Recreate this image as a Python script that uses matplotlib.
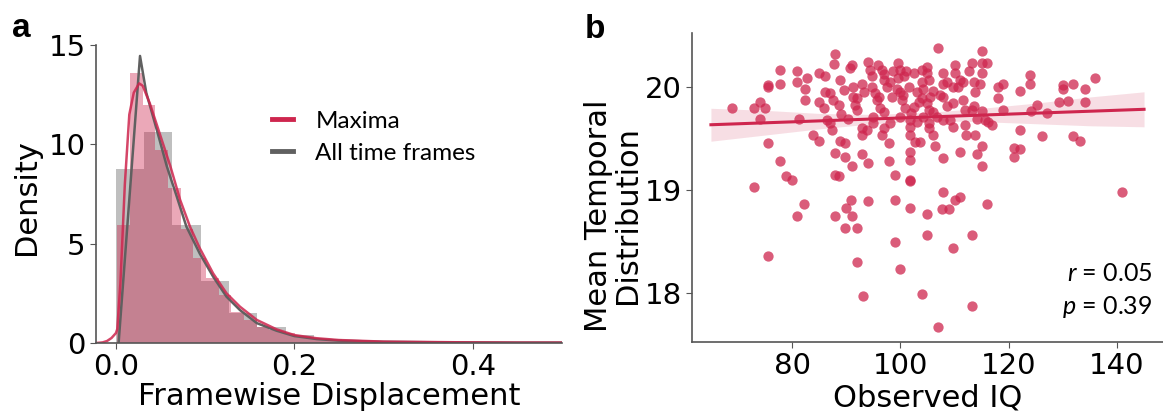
import matplotlib
matplotlib.use("Agg")
import matplotlib.pyplot as plt
from matplotlib.lines import Line2D
import numpy as np

plt.rcParams['mathtext.fontset'] = 'custom'
plt.rcParams['mathtext.rm'] = 'Lato'
plt.rcParams['mathtext.it'] = 'Lato:italic'

pink = '#ce264e'
grey = '#606060'

# ---- panel a : framewise displacement ----
grey_start, grey_width = 0.0, 0.0317
grey_heights = [8.75, 10.6, 5.94, 3.14, 1.53, 0.79, 0.42, 0.22, 0.13, 0.08,
                0.06, 0.05, 0.04, 0.03, 0.03, 0.02]
pink_start, pink_width = 0.0015, 0.0142
pink_heights = [5.94, 13.57, 11.98, 9.71, 7.78, 5.72, 4.3, 3.26, 2.42, 1.58,
                1.16, 0.82, 0.65, 0.49, 0.36, 0.27, 0.2, 0.16, 0.12, 0.1,
                0.08, 0.07, 0.06, 0.05, 0.05, 0.04, 0.04, 0.03, 0.03, 0.03,
                0.03, 0.02, 0.02, 0.02, 0.02]

pink_kde_x = [-0.022, -0.015, -0.01, -0.005, 0.0, 0.0015, 0.005, 0.01, 0.015, 0.02,
              0.026, 0.03, 0.038, 0.049, 0.061, 0.072, 0.083, 0.094, 0.109, 0.124,
              0.139, 0.158, 0.18, 0.2, 0.225, 0.25, 0.3, 0.35, 0.4, 0.45, 0.5]
pink_kde_y = [0.0, 0.03, 0.1, 0.25, 0.5, 0.7, 3.0, 8.0, 11.5, 12.6,
              13.07, 12.95, 12.06, 10.55, 8.9, 7.2, 5.86, 4.77, 3.5, 2.5,
              1.83, 1.16, 0.69, 0.4, 0.24, 0.15, 0.07, 0.05, 0.03, 0.02, 0.02]
grey_kde_x = [0.003, 0.027, 0.034, 0.046, 0.057, 0.068, 0.079, 0.094, 0.109, 0.124,
              0.139, 0.158, 0.18, 0.2, 0.225, 0.25, 0.3, 0.35, 0.4, 0.45, 0.5]
grey_kde_y = [0.0, 14.45, 12.6, 10.7, 8.9, 7.4, 5.86, 4.5, 3.34, 2.33,
              1.66, 1.0, 0.62, 0.35, 0.2, 0.12, 0.06, 0.04, 0.03, 0.02, 0.02]

# ---- panel b : IQ vs mean temporal distribution ----
iq = [68.9, 72.9, 74.0, 75.0, 74.0, 75.6, 75.6, 77.8, 77.8, 75.6, 77.8, 78.9, 79.9, 72.9,
      75.6, 80.9, 82.1, 80.9, 80.9, 82.4, 82.7, 81.2, 82.4, 83.8, 84.9, 84.9, 86.1, 84.9,
      85.9, 86.4, 87.0, 86.1, 87.0, 87.6, 87.9, 87.8, 88.9, 89.5, 88.6, 89.0, 87.3, 88.9,
      89.8, 87.9, 89.8, 91.0, 87.9, 88.7, 90.0, 90.8, 91.0, 87.9, 89.8, 91.9, 91.9, 93.0,
      92.9, 94.1, 94.1, 90.7, 91.0, 91.3, 91.3, 91.9, 91.6, 91.9, 90.4, 92.9, 92.9, 93.8,
      92.9, 93.2, 94.1, 94.4, 94.7, 94.7, 95.3, 95.6, 96.2, 95.0, 95.0, 95.9, 96.6, 96.9,
      97.5, 96.9, 96.6, 97.8, 97.8, 99.0, 99.0, 99.0, 99.9, 98.7, 99.6, 99.9, 100.6, 99.3,
      99.9, 100.2, 100.9, 99.9, 101.8, 101.8, 101.8, 101.8, 101.8, 101.8, 101.8, 101.8,
      102.7, 103.6, 103.9, 104.9, 104.9, 105.2, 104.2, 103.9, 104.9, 105.2, 104.2, 105.2,
      106.1, 106.4, 106.7, 105.2, 105.0, 105.0, 103.9, 107.0, 107.0, 107.9, 107.9, 108.6,
      107.3, 107.9, 108.6, 107.9, 109.2, 109.8, 110.1, 110.1, 109.8, 109.8, 110.7, 111.0,
      111.6, 111.6, 111.9, 111.9, 112.2, 111.0, 107.9, 107.9, 107.6, 108.9, 110.1, 111.0,
      113.2, 109.8, 113.2, 112.6, 113.2, 113.5, 113.8, 113.5, 113.2, 113.8, 114.1, 115.0,
      115.0, 115.9, 115.0, 114.7, 115.0, 115.6, 116.2, 116.9, 115.0, 114.1, 115.0, 115.9,
      118.1, 119.0, 118.1, 119.0, 122.0, 122.0, 120.9, 120.9, 122.1, 123.9, 123.9, 125.2,
      124.2, 126.1, 127.0, 129.2, 130.1, 130.1, 131.9, 131.0, 134.1, 134.1, 135.9, 131.9,
      133.2, 140.9,
      97.0, 98.0, 98.5, 99.5, 100.5, 101.0, 101.5, 102.5, 102.5, 103.0, 103.5, 104.0,
      105.5, 106.0, 96.0, 97.0, 98.0, 102.0, 103.0, 106.0]
mtd = [19.79, 19.79, 19.85, 19.79, 19.69, 20.02, 20.00, 20.03, 20.16, 19.45, 19.28, 19.13,
       19.09, 19.03, 18.36, 18.74, 18.86, 20.15, 20.05, 19.98, 20.08, 19.69, 19.87, 19.53,
       19.47, 20.13, 20.10, 19.85, 19.79, 19.68, 19.65, 19.95, 19.94, 19.87, 20.32, 20.22,
       20.06, 19.97, 19.82, 19.73, 19.58, 19.47, 19.45, 19.36, 19.32, 19.23, 19.14, 19.13,
       18.82, 18.90, 18.74, 18.74, 18.63, 18.63, 18.30, 17.97, 19.35, 19.26, 18.89, 20.18,
       20.21, 20.00, 19.90, 19.89, 19.82, 19.77, 19.69, 19.60, 19.53, 19.58, 20.03, 19.95,
       20.24, 20.16, 20.10, 20.00, 19.94, 19.87, 19.79, 19.71, 19.65, 20.21, 20.16, 20.06,
       20.00, 19.60, 19.53, 19.45, 19.28, 19.14, 18.90, 18.49, 18.23, 20.15, 20.23, 20.16,
       20.10, 19.98, 19.95, 19.87, 19.79, 19.71, 19.68, 19.61, 19.53, 19.37, 19.29, 19.09,
       19.08, 18.82, 19.46, 19.46, 20.16, 20.19, 20.13, 20.06, 19.98, 19.89, 19.84, 19.77,
       19.71, 19.65, 19.53, 19.42, 19.71, 19.60, 18.76, 18.56, 17.99, 17.67, 20.38, 20.13,
       20.03, 20.05, 19.92, 19.90, 19.81, 19.68, 19.68, 19.61, 20.21, 20.13, 19.84, 20.00,
       20.00, 20.06, 20.05, 19.87, 19.77, 19.63, 19.53, 19.37, 19.31, 18.98, 18.81, 18.81,
       18.90, 18.93, 18.56, 18.43, 17.87, 20.15, 20.23, 20.05, 19.95, 19.81, 19.77, 19.53,
       19.69, 20.35, 20.23, 20.23, 20.13, 20.03, 19.76, 19.68, 19.66, 19.63, 19.42, 19.35,
       19.23, 18.86, 20.00, 20.03, 19.89, 19.77, 19.96, 19.58, 19.40, 19.32, 19.39, 20.11,
       20.03, 19.82, 19.76, 19.52, 19.74, 19.85, 20.02, 19.98, 20.03, 19.86, 19.98, 19.85,
       20.08, 19.52, 19.47, 18.98,
       20.12, 20.05, 19.90, 20.08, 19.92, 20.15, 20.00, 20.13, 19.80, 19.95, 19.85, 20.05,
       19.90, 19.96, 19.90, 19.75, 19.65, 19.74, 19.66, 19.75]

reg_x = [65.0, 145.0]
reg_y = [19.63, 19.78]
ci_x = [65, 75, 85, 95, 105, 115, 125, 135, 145]
ci_lo = [19.47, 19.53, 19.59, 19.64, 19.67, 19.66, 19.64, 19.62, 19.61]
ci_hi = [19.79, 19.77, 19.74, 19.73, 19.75, 19.79, 19.84, 19.90, 19.95]

tick_fs = 21
label_fs = 22

fig = plt.figure(figsize=(11.63, 4.18), dpi=100)
ax1 = fig.add_axes([0.0825, 0.1794, 0.4007, 0.7129])
ax2 = fig.add_axes([0.595, 0.1818, 0.405, 0.739])

# histograms
g_left = grey_start + grey_width * np.arange(len(grey_heights))
p_left = pink_start + pink_width * np.arange(len(pink_heights))
ax1.bar(g_left, grey_heights, width=grey_width, align='edge', color=grey,
        alpha=0.4, linewidth=0)
ax1.bar(p_left, pink_heights, width=pink_width, align='edge', color=pink,
        alpha=0.4, linewidth=0)
ax1.plot(grey_kde_x, grey_kde_y, color=grey, lw=1.8)
ax1.plot(pink_kde_x, pink_kde_y, color=pink, lw=1.8, alpha=0.85)

ax1.set_xlim(-0.0224, 0.5)
ax1.set_ylim(0, 15)
ax1.set_xticks([0.0, 0.2, 0.4])
ax1.set_yticks([0, 5, 10, 15])
ax1.set_xlabel('Framewise Displacement', fontsize=label_fs)
ax1.set_ylabel('Density', fontsize=label_fs)
ax1.xaxis.set_label_coords(0.5, -0.181)
ax1.yaxis.set_label_coords(-0.150, 0.49)
ax1.xaxis.label.set_va('center')
ax1.yaxis.label.set_va('center')

handles = [Line2D([], [], color=pink, lw=3.5),
           Line2D([], [], color=grey, lw=3.5)]
ax1.legend(handles, ['Maxima', 'All time frames'], loc='center left',
           bbox_to_anchor=(0.33, 0.69), frameon=False, handlelength=0.9,
           handletextpad=0.9, labelspacing=0.45,
           prop={'family': 'Lato', 'size': 17.5})

# scatter + regression
ax2.fill_between(ci_x, ci_lo, ci_hi, color=pink, alpha=0.15, lw=0)
ax2.scatter(iq, mtd, s=55, color=pink, alpha=0.75, lw=0)
ax2.plot(reg_x, reg_y, color=pink, lw=2.2)
ax2.set_xlim(61.5, 148.5)
ax2.set_ylim(17.52, 20.52)
ax2.set_xticks([80, 100, 120, 140])
ax2.set_yticks([18, 19, 20])
ax2.set_xlabel('Observed IQ', fontsize=label_fs)
ax2.set_ylabel('Mean Temporal\nDistribution', fontsize=label_fs, linespacing=1.0)
ax2.xaxis.set_label_coords(0.5, -0.181)
ax2.yaxis.set_label_coords(-0.168, 0.41)
ax2.xaxis.label.set_va('center')
ax2.yaxis.label.set_va('center')
ax2.text(0.977, 0.223, '$r$ = 0.05', transform=ax2.transAxes, ha='right',
         va='center', fontsize=18, family='Lato')
ax2.text(0.977, 0.113, '$p$ = 0.39', transform=ax2.transAxes, ha='right',
         va='center', fontsize=18, family='Lato')

for ax in (ax1, ax2):
    ax.spines['top'].set_visible(False)
    ax.spines['right'].set_visible(False)
    for s in ('left', 'bottom'):
        ax.spines[s].set_color('#555555')
        ax.spines[s].set_linewidth(1.2)
    ax.tick_params(labelsize=tick_fs, color='#555555', length=4)

fig.text(0.010, 0.911, 'a', fontsize=24, fontweight='bold', family='Liberation Sans')
fig.text(0.503, 0.909, 'b', fontsize=24, fontweight='bold', family='Liberation Sans')

fig.savefig('out.png', dpi=100)
